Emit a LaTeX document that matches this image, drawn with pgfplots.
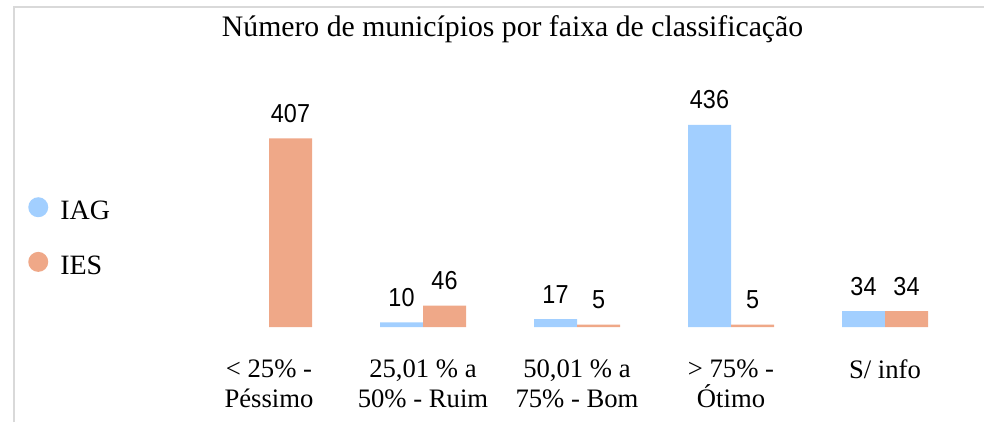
\documentclass[border=0pt]{standalone}
\usepackage{fontspec}
\setmainfont{Liberation Serif}
\newfontfamily\labelfont[FakeStretch=0.9]{Liberation Sans}
\usepackage{pgfplots}
\pgfplotsset{compat=1.18}

\definecolor{iagblue}{RGB}{162,207,255}
\definecolor{iessalmon}{RGB}{239,168,136}
\definecolor{framegray}{RGB}{217,217,217}

\begin{document}
\begin{tikzpicture}[x=1pt,y=1pt]
\useasboundingbox (0,0) rectangle (738,316.5);
\draw[framegray, line width=1.5pt] (10.5,0) -- (10.5,311.25) -- (738,311.25);
\node[anchor=base, inner sep=0pt, font=\fontsize{22.3}{26}\selectfont]
  at (384.4,288.75) {Número de municípios por faixa de classificação};

\begin{axis}[
    at={(144pt,71.25pt)}, anchor=south west,
    scale only axis, width=577.5pt, height=166.875pt,
    xmin=-0.5, xmax=4.5, ymin=0, ymax=480,
    ybar=0pt, bar width=32.25pt,
    axis line style={draw=none}, tick style={draw=none},
    ytick=\empty,
    xtick={0,1,2,3,4},
    xticklabels={{< 25\% -\\Péssimo},{25,01 \% a\\50\% - Ruim},{50,01 \% a\\75\% - Bom},{> 75\% -\\Ótimo},{S/ info}},
    xticklabel style={font=\fontsize{20}{22.25}\selectfont, align=center,
        anchor=north, inner sep=0pt, yshift=-20.25pt},
    /pgf/number format/assume math mode=true,
    nodes near coords,
    every node near coord/.append style={font=\labelfont\fontsize{19.5}{22}\selectfont,
        text=black, inner sep=0pt, yshift=11.6pt},
    clip=false,
    legend image code/.code={\fill[#1, draw=none] (7.5pt,0.33em) circle (7.5pt);},
    legend style={at={(-0.213,0.405)}, anchor=west, draw=none, fill=none,
        font=\fontsize{21}{24}\selectfont, inner sep=0pt,
        nodes={inner sep=0pt}, column sep=9pt, row sep=22.5pt},
    legend cell align=left,
]
\addplot[fill=iagblue, draw=none] coordinates {(1,10) (2,17) (3,436) (4,34)};
\addplot[fill=iessalmon, draw=none] coordinates {(0,407) (1,46) (2,5) (3,5) (4,34)};
\legend{IAG, IES}
\end{axis}
\end{tikzpicture}
\end{document}
